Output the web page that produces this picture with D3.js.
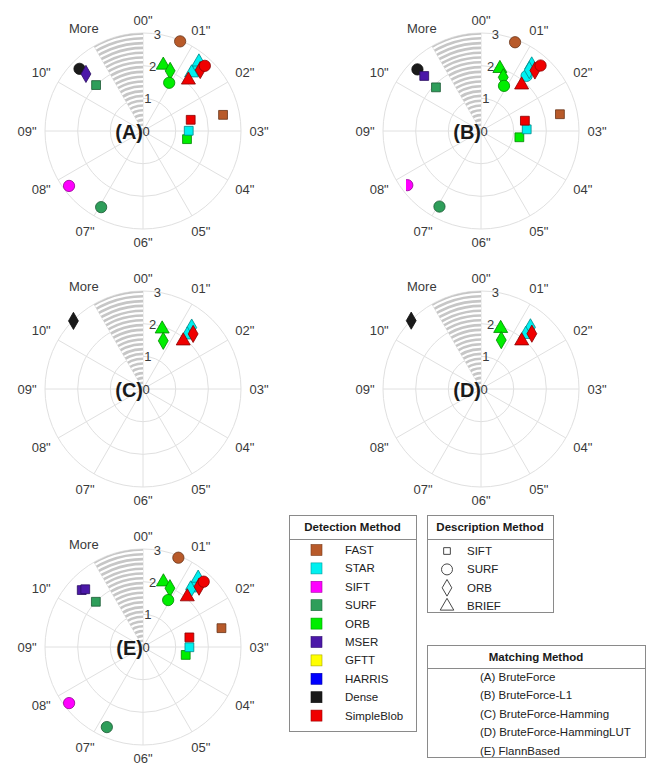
<!DOCTYPE html>
<html><head><meta charset="utf-8">
<script src="https://cdn.jsdelivr.net/npm/d3@7"></script>
<style>body{margin:0;background:#fff}svg{font-family:"Liberation Sans",Arial,sans-serif}</style>
</head><body><svg id="c" width="651" height="767"></svg>
<script>
// ---------- data ----------
const angleLabels = ['00"','01"','02"','03"','04"','05"','06"','07"','08"','09"','10"','More'];
const radialTicks = [0, 1, 2, 3];
const detectionMethods = ["FAST","STAR","SIFT","SURF","ORB","MSER","GFTT","HARRIS","Dense","SimpleBlob"];
const detectionColors = ["#b85a2a","#00f0f0","#ff00ff","#2e9e5a","#00ee00","#4b18a8","#ffff00","#0000ff","#1a1a1a","#f00000"];
const descriptionMethods = ["SIFT","SURF","ORB","BRIEF"];
const matchingMethods = ["(A) BruteForce","(B) BruteForce-L1","(C) BruteForce-Hamming","(D) BruteForce-HammingLUT","(E) FlannBased"];
const panelLetters = ["(A)","(B)","(C)","(D)","(E)"];
// [detection, description, seconds, radius]
const pointsA = [
  ["SURF","SURF",6.96,2.66],["SIFT","SURF",7.78,2.82],["SURF","SIFT",10.48,2.01],
  ["Dense","SURF",10.48,2.72],["MSER","ORB",10.5,2.47],
  ["FAST","SURF",0.75,2.97],["FAST","SIFT",2.62,2.5],
  ["ORB","BRIEF",0.57,2.11],["ORB","ORB",0.81,2.02],["ORB","SURF",0.95,1.68],["ORB","SIFT",3.35,1.37],
  ["STAR","SIFT",2.99,1.40],["STAR","SURF",1.36,2.45],["STAR","ORB",1.35,2.55],["STAR","BRIEF",1.30,2.72],["STAR","BRIEF",1.33,2.32],
  ["SimpleBlob","SIFT",2.56,1.50],["SimpleBlob","BRIEF",1.39,2.09],["SimpleBlob","ORB",1.44,2.56],["SimpleBlob","SURF",1.45,2.75]
];
const pointsB = [
  ["SURF","SURF",6.96,2.64],["SIFT","SURF",7.79,2.80],["SURF","SIFT",10.47,1.92],
  ["Dense","SURF",10.47,2.71],["MSER","SIFT",10.47,2.42],
  ["FAST","SURF",0.70,2.91],["FAST","SIFT",2.60,2.47],
  ["ORB","BRIEF",0.56,2.00],["ORB","ORB",0.75,1.78],["ORB","SURF",0.90,1.55],["ORB","SIFT",3.31,1.19],
  ["STAR","SIFT",2.93,1.40],["STAR","SURF",1.32,2.19],["STAR","BRIEF",1.25,2.55],["STAR","ORB",1.28,2.38],
  ["SimpleBlob","SIFT",2.56,1.38],["SimpleBlob","BRIEF",1.38,1.88],["SimpleBlob","ORB",1.39,2.48],["SimpleBlob","SURF",1.41,2.71]
];
const pointsC = [
  ["Dense","ORB",10.48,2.98],
  ["ORB","BRIEF",0.59,1.93],["ORB","ORB",0.76,1.60],
  ["STAR","ORB",1.28,2.40],["STAR","BRIEF",1.31,2.14],
  ["SimpleBlob","BRIEF",1.33,1.92],["SimpleBlob","ORB",1.41,2.28]
];
const pointsD = [
  ["Dense","ORB",10.48,2.99],
  ["ORB","BRIEF",0.60,1.95],["ORB","ORB",0.75,1.62],
  ["STAR","ORB",1.29,2.42],["STAR","BRIEF",1.31,2.16],
  ["SimpleBlob","BRIEF",1.34,1.93],["SimpleBlob","ORB",1.42,2.30]
];
const pointsE = [
  ["SURF","SURF",6.81,2.69],["SIFT","SURF",7.76,2.84],["SURF","SIFT",10.46,2.00],
  ["MSER","SIFT",10.43,2.56],["MSER","SIFT",10.5,2.50],
  ["FAST","SURF",0.72,2.94],["FAST","SIFT",2.55,2.47],
  ["ORB","BRIEF",0.58,2.09],["ORB","ORB",0.82,1.98],["ORB","SURF",0.94,1.63],["ORB","SIFT",3.35,1.33],
  ["STAR","SIFT",3.01,1.42],["STAR","SURF",1.36,2.45],["STAR","ORB",1.32,2.29],["STAR","BRIEF",1.29,2.70],
  ["SimpleBlob","SIFT",2.61,1.45],["SimpleBlob","BRIEF",1.38,2.05],["SimpleBlob","ORB",1.43,2.52],["SimpleBlob","SURF",1.43,2.73]
];
const panelData = [pointsA, pointsB, pointsC, pointsD, pointsE];

// ---------- layout ----------
const svg = d3.select("#c");
const R = 98;
const centers = [[143,131],[481,131],[143,389],[481,389],[143,647]];
const angle = d3.scaleLinear().domain([0, 12]).range([0, 2*Math.PI]);
const rad = d3.scaleLinear().domain([0, 3]).range([0, R]);
const color = d3.scaleOrdinal().domain(detectionMethods).range(detectionColors);
const shape = d3.scaleOrdinal().domain(descriptionMethods)
  .range([d3.symbolSquare, d3.symbolCircle, d3.symbolDiamond, d3.symbolTriangle]);
const symSize = {SIFT: 78, SURF: 100, ORB: 85, BRIEF: 85};
const gridCol = "#e0e0e0";
const textCol = "#3a3a3a";

svg.append("defs").selectAll("clipPath").data(centers).join("clipPath")
  .attr("id", (d,i) => "wedge" + i)
  .append("path")
  .attr("d", d3.arc()({innerRadius: 0, outerRadius: R, startAngle: angle(11), endAngle: angle(12)}));
svg.select("defs").append("clipPath").attr("id","clipB")
  .append("rect").attr("x", 406).attr("y", 0).attr("width", 245).attr("height", 260);

panelData.forEach((pts, i) => {
  const [cx, cy] = centers[i];
  const g = svg.append("g").attr("transform", `translate(${cx},${cy})`);
  g.selectAll("circle.grid").data(radialTicks.slice(1)).join("circle")
    .attr("r", d => rad(d)).attr("fill", "none").attr("stroke", gridCol).attr("stroke-width", 1);
  g.selectAll("line.spoke").data(d3.range(12)).join("line")
    .attr("x1", 0).attr("y1", 0)
    .attr("x2", d => R*Math.sin(angle(d))).attr("y2", d => -R*Math.cos(angle(d)))
    .attr("stroke", gridCol).attr("stroke-width", 1);
  const w = g.append("g").attr("clip-path", `url(#wedge${i})`);
  w.append("path").attr("d", d3.arc()({innerRadius: 0, outerRadius: R, startAngle: angle(11), endAngle: angle(12)}))
    .attr("fill", "#fff");
  w.selectAll("circle").data(d3.range(1.5, R+3, 4.8)).join("circle")
    .attr("r", d => d).attr("fill", "none").attr("stroke", "#c6c6c6").attr("stroke-width", 2.6);
  const al = g.selectAll("text.ang").data(angleLabels).join("text")
    .attr("class","ang").text(d => d)
    .attr("font-size", 13).attr("fill", textCol)
    .attr("text-anchor", "middle").attr("dominant-baseline", "central");
  al.each(function(d, k) {
    const tw = this.getComputedTextLength();
    const a = angle(k);
    const off = R + 7 + Math.abs(Math.sin(a))*(tw/2 + 1.5) + Math.abs(Math.cos(a))*6;
    d3.select(this).attr("x", off*Math.sin(a)).attr("y", -off*Math.cos(a));
  });
  g.append("text").text(panelLetters[i]).attr("x", 0).attr("y", 1)
    .attr("text-anchor", "end").attr("dominant-baseline", "central")
    .attr("font-size", 20).attr("font-weight", "bold").attr("fill", "#1a1a1a");
  const ra = 8.5 * Math.PI / 180;
  g.selectAll("text.rt").data(radialTicks).join("text")
    .text(d => d).attr("font-size", 13).attr("fill", textCol)
    .attr("text-anchor", "middle").attr("dominant-baseline", "central")
    .attr("x", d => Math.max(rad(d)*Math.sin(ra), 3)).attr("y", d => -rad(d)*Math.cos(ra));
  const mg = svg.append("g");
  if (i === 1) mg.attr("clip-path", "url(#clipB)");
  mg.selectAll("path").data(pts).join("path")
    .attr("transform", d => `translate(${cx + rad(d[3])*Math.sin(angle(d[2]))},${cy - rad(d[3])*Math.cos(angle(d[2]))})`)
    .attr("d", d => d3.symbol(shape(d[1]), symSize[d[1]])())
    .attr("fill", d => color(d[0]))
    .attr("stroke", d => d3.color(color(d[0])).darker(1.6))
    .attr("stroke-width", 0.8);
});

// ---------- legends ----------
function box(x, y, w, h, title, sepY) {
  const g = svg.append("g");
  g.append("rect").attr("x", x+0.5).attr("y", y+0.5).attr("width", w).attr("height", h)
    .attr("fill", "#fff").attr("stroke", "#8a8a8a");
  g.append("text").text(title).attr("x", x + w/2).attr("y", y + 12)
    .attr("text-anchor", "middle").attr("dominant-baseline", "central")
    .attr("font-size", 11.5).attr("font-weight", "bold").attr("fill", "#1a1a1a");
  g.append("line").attr("x1", x).attr("x2", x + w).attr("y1", sepY + 0.5).attr("y2", sepY + 0.5)
    .attr("stroke", "#8a8a8a");
  return g;
}
const step = 18.4;
const gd = box(289, 515, 127, 216, "Detection Method", 539);
gd.selectAll("rect.sw").data(detectionMethods).join("rect")
  .attr("x", 311).attr("y", (d,k) => 550 + k*step - 5.5).attr("width", 11).attr("height", 11)
  .attr("fill", d => color(d)).attr("stroke", d => d3.color(color(d)).darker(1.2)).attr("stroke-width", 0.6);
gd.selectAll("text.lb").data(detectionMethods).join("text")
  .text(d => d).attr("x", 345).attr("y", (d,k) => 550 + k*step)
  .attr("dominant-baseline", "central").attr("font-size", 11.5).attr("fill", "#222");

const gs = box(427, 515, 126, 97, "Description Method", 539);
gs.selectAll("path").data(descriptionMethods).join("path")
  .attr("transform", (d,k) => `translate(447,${551 + k*step})`)
  .attr("d", d => d3.symbol(shape(d), d === "SIFT" ? 45 : (d === "SURF" ? 95 : 80))())
  .attr("fill", "none").attr("stroke", "#333").attr("stroke-width", 0.9);
gs.selectAll("text.lb").data(descriptionMethods).join("text")
  .text(d => d).attr("x", 467).attr("y", (d,k) => 551 + k*step)
  .attr("dominant-baseline", "central").attr("font-size", 11.5).attr("fill", "#222");

const gm = box(427, 645, 218, 112, "Matching Method", 668);
gm.selectAll("text.lb").data(matchingMethods).join("text")
  .text(d => d).attr("x", 480).attr("y", (d,k) => 677 + k*step)
  .attr("dominant-baseline", "central").attr("font-size", 11.5).attr("fill", "#222");
</script>
</body></html>
